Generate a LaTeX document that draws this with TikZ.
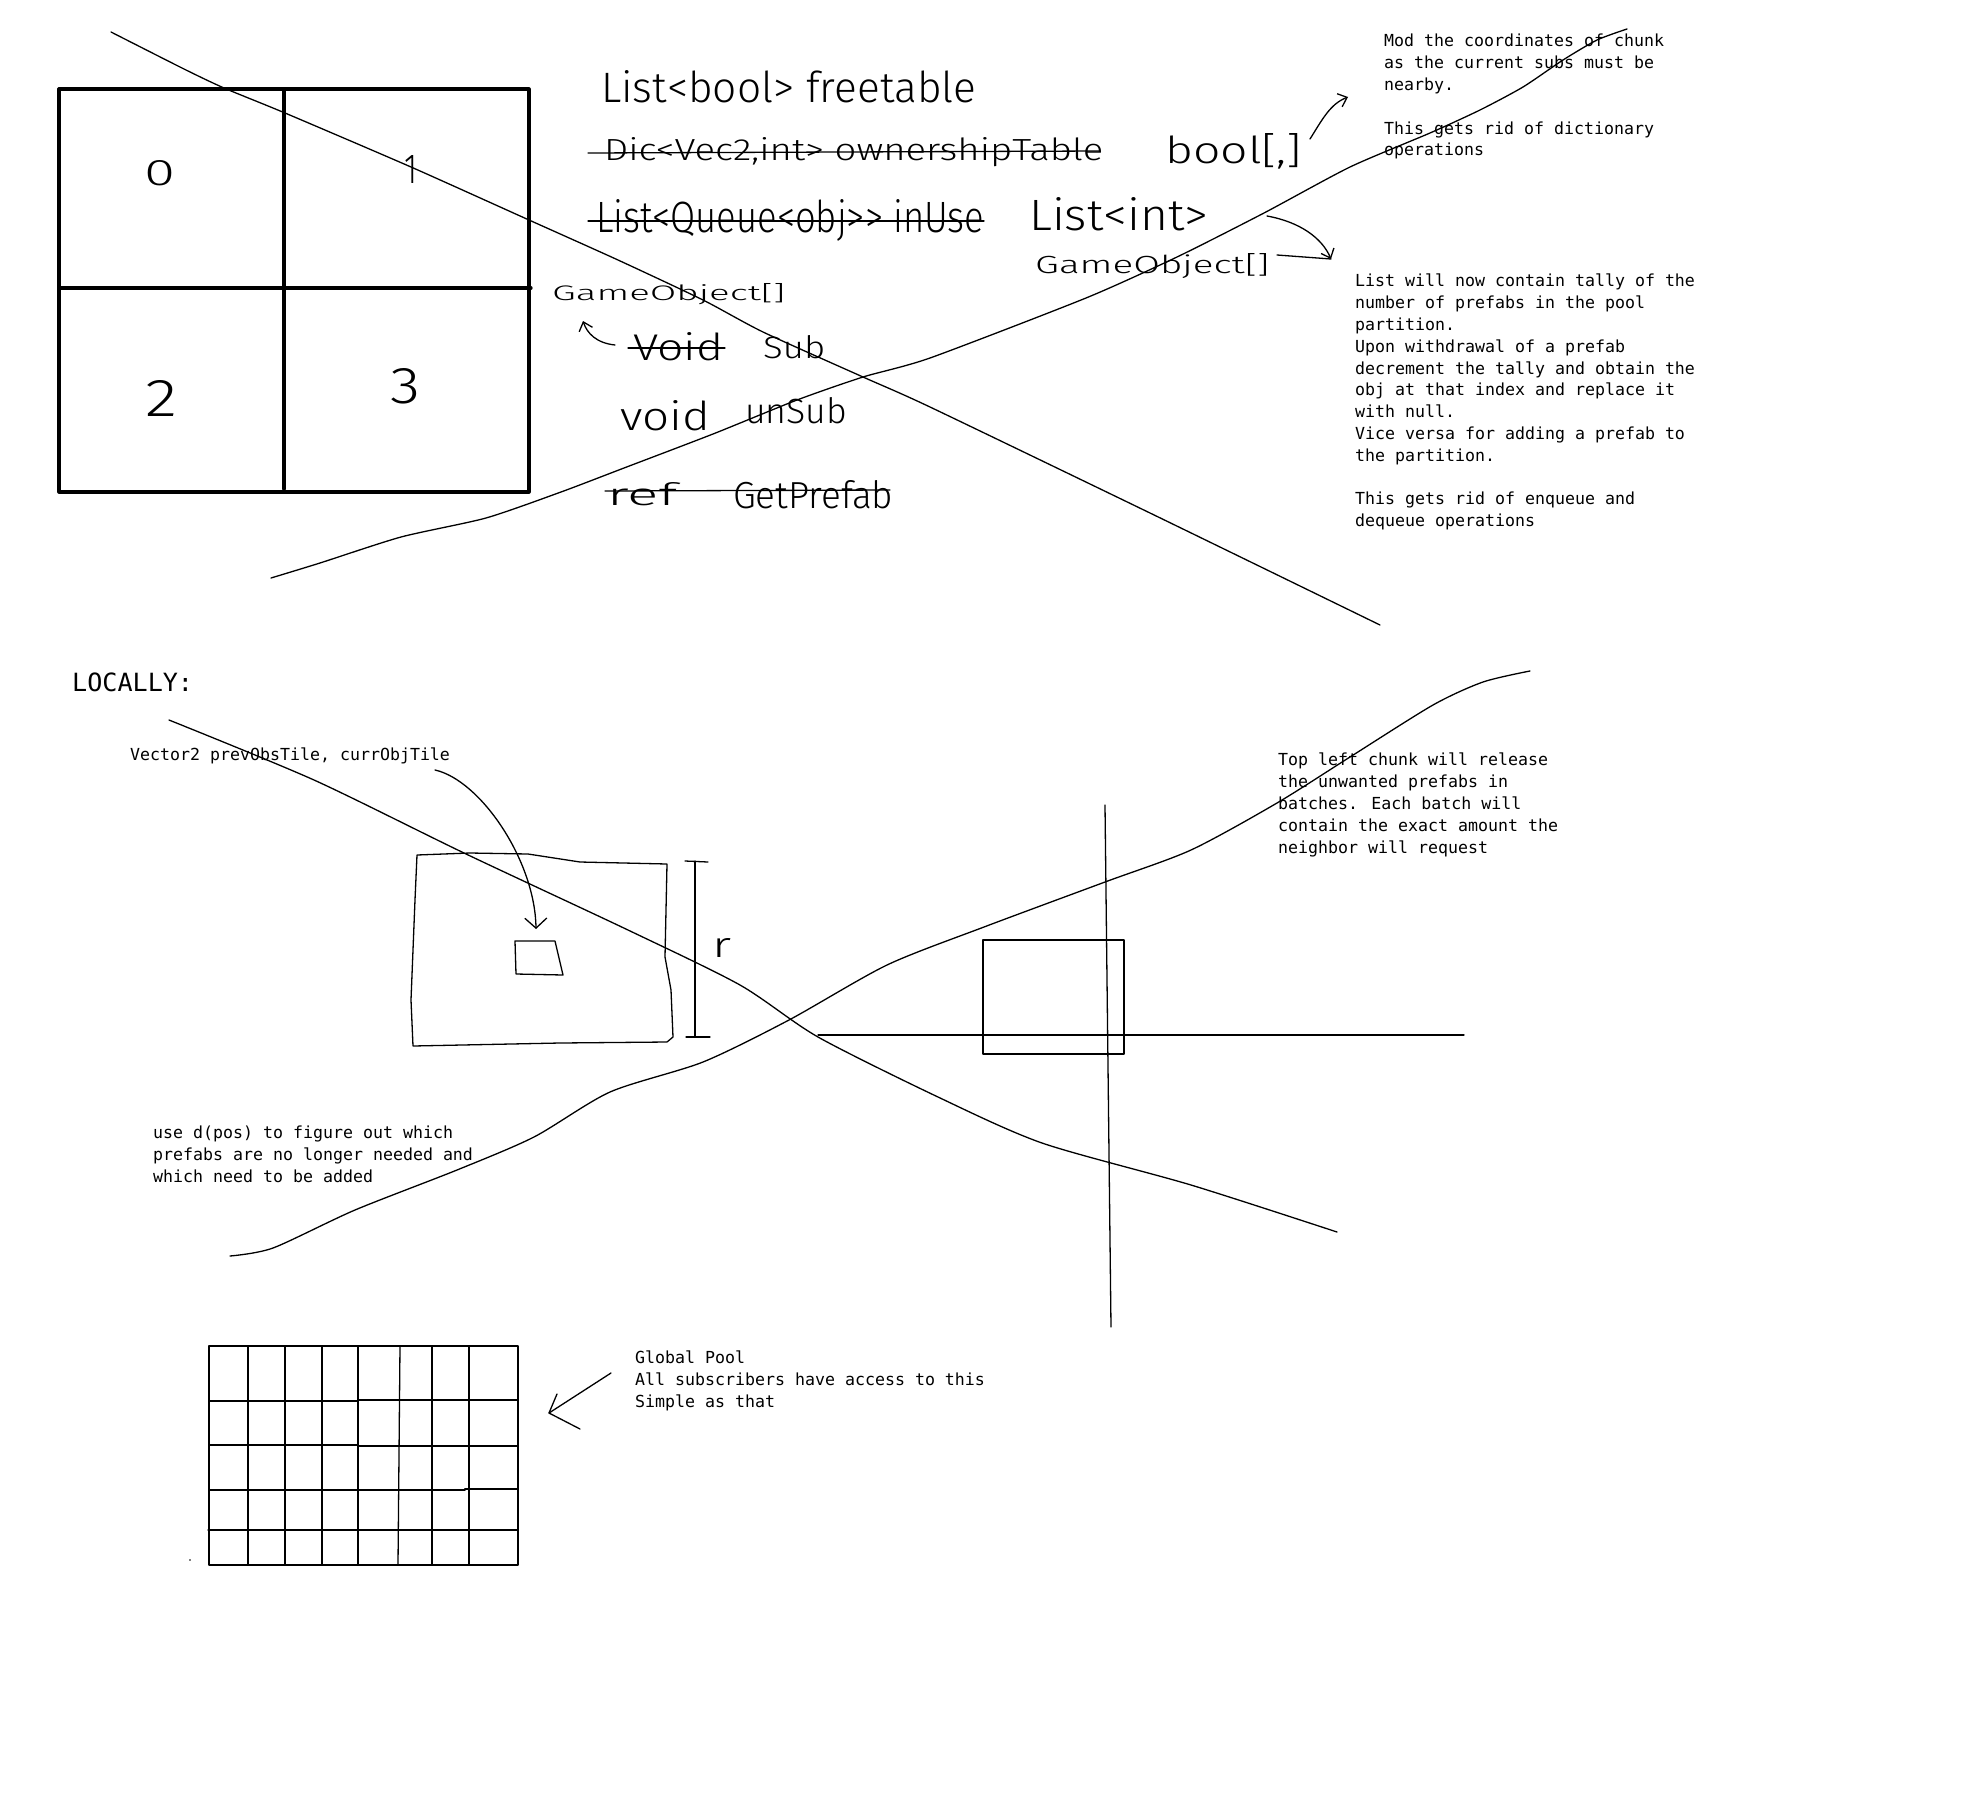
\documentclass[tikz,border=0pt]{standalone}
\usepackage{fontspec}
\usepackage{graphicx}
\usetikzlibrary{arrows.meta}
\newfontfamily\monof{DejaVu Sans Mono}
\newfontfamily\handf{Fira Sans Light}
\newcommand\hw[3]{\resizebox{#1pt}{#2pt}{\handf #3}}
\begin{document}
\begin{tikzpicture}[x=1pt,y=-1pt,line cap=round,line join=round,
  hand/.style={line width=1.3pt},
  boxline/.style={line width=3.2pt},
  ht/.style={inner sep=0pt,anchor=base west},
  mono/.style={inner sep=0pt,anchor=north west,align=left,font=\monof\fontsize{16.6}{21.8}\selectfont},
  tipbig/.style={-{Straight Barb[length=10pt,width=22pt]}},
  tipsmall/.style={-{Straight Barb[length=8pt,width=14pt]}}]
\fill[white] (0,0) rectangle (1971,1815);
\useasboundingbox (0,0) rectangle (1971,1815);

% ---------- top partition box ----------
\draw[boxline] (59,89) rectangle (529,492);
\draw[boxline] (284,89) -- (284,489);
\draw[boxline] (59,288) -- (531,288);
\node[ht] (n0) at (144,185) {\hw{31}{25}{0}};
\node[ht] (n1) at (404,183) {\hw{13}{28}{1}};
\node[ht] (n2) at (145,416) {\hw{32}{36}{2}};
\node[ht] (n3) at (390,403) {\hw{30}{35}{3}};

% ---------- handwritten notes ----------
\node[ht] (t1) at (601,102) {\hw{375}{32}{List<bool> freetable}};
\node[ht] (t2) at (604,160) {\hw{499}{23}{Dic<Vec2,int> ownershipTable}};
\draw[hand] (588,153) -- (1100,151);
\node[ht] (t3) at (1165,163) {\hw{137}{30}{bool[,]}};
\coordinate (a1) at (1348,97);
\draw[hand,tipsmall] (1310,139) .. controls (1322,120) and (1330,104) .. (a1);
\node[ht] (t4) at (596,232) {\hw{388}{33}{List<Queue<obj>> inUse}};
\draw[hand] (588,221) -- (984,221);
\node[ht] (t5) at (1029,230) {\hw{179}{33}{List<int>}};
\node[ht] (t6) at (1035,273) {\hw{234}{20}{GameObject[]}};
\coordinate (a2) at (1331,259);
\draw[hand,tipsmall] (1267,216) .. controls (1300,222) and (1322,238) .. (a2);
\draw[hand] (1277,255) -- (a2);
\node[ht] (t7) at (552,300) {\hw{233}{17}{GameObject[]}};
\coordinate (a3) at (583,321);
\draw[hand,tipsmall] (615,345) .. controls (596,343) and (587,333) .. (a3);
\node[ht] (t8) at (633,360) {\hw{90}{28}{Void}};
\draw[hand] (628,348) -- (725,348);
\node[ht] (t9) at (763,358) {\hw{62}{23}{Sub}};
\node[ht] (t10) at (620,430) {\hw{90}{30}{void}};
\node[ht] (t11) at (745,423) {\hw{102}{26}{unSub}};
\node[ht] (t12) at (607,505) {\hw{70}{23}{ref}};
\node[ht] (t13) at (733,508) {\hw{160}{28}{GetPrefab}};
\draw[hand] (605,491) -- (890,490);

% ---------- top cross ----------
\draw[hand] plot[smooth,tension=0.4] coordinates {(111,32) (184,69) (224,88) (285,113) (411,167) (529,220) (618,260) (703,300) (763,332) (863,377) (930,407) (1150,513) (1380,625)};
\draw[hand] plot[smooth,tension=0.4] coordinates {(271,578) (320,563) (401,537) (486,518) (561,492) (624,468) (713,434) (797,400) (863,377) (930,358) (1086,298) (1177,257) (1264,213) (1350,167) (1430,133) (1480,110) (1523,87) (1563,60) (1597,40) (1627,29)};

% ---------- typed notes (top) ----------
\node[mono] (m1) at (1384,34) {Mod the coordinates of chunk\\as the current subs must be\\nearby.\\[21.8pt]This gets rid of dictionary\\operations};
\node[mono] (m2) at (1355,274) {List will now contain tally of the\\number of prefabs in the pool\\partition.\\Upon withdrawal of a prefab\\decrement the tally and obtain the\\obj at that index and replace it\\with null.\\Vice versa for adding a prefab to\\the partition.\\[21.8pt]This gets rid of enqueue and\\dequeue operations};

% ---------- LOCALLY ----------
\node[ht,font=\monof\fontsize{25.1}{30}\selectfont] (loc) at (72,691) {LOCALLY:};
\node[mono] (vec) at (130,748) {Vector2 prevObsTile, currObjTile};

% chunk rectangle
\draw[hand] (417,855) -- (470,853) -- (528,854) -- (580,862) -- (667,864) -- (665,957) -- (671,990) -- (673,1037) -- (667,1042) -- (560,1043) -- (413,1046) -- (411,1000) -- (415,900) -- cycle;
% object tile
\draw[hand] (515,941) -- (555,941) -- (563,975) -- (516,974) -- cycle;
\coordinate (vs) at (435,770);
\coordinate (vt) at (536,929);
\draw[hand,tipbig] (vs) .. controls (480,780) and (535,860) .. (vt);
% radius bracket
\draw[hand] (695,861) -- (695,1037);
\draw[hand] (685,861) -- (708,862);
\draw[hand] (686,1037) -- (710,1037);
\node[ht] (rr) at (712,957) {\hw{19}{19}{r}};

% axes and neighbour chunk
\draw[hand] (818,1035) -- (1464,1035);
\draw[hand] (1105,805) -- (1111,1327);
\draw[hand] (983,940) rectangle (1124,1054);

% lower cross
\draw[hand] plot[smooth,tension=0.45] coordinates {(169,720) (314,780) (464,853) (628,930) (740,985) (818,1037) (938,1097) (1042,1143) (1191,1185) (1337,1232)};
\draw[hand] plot[smooth,tension=0.45] coordinates {(230,1256) (273,1248) (355,1210) (457,1170) (534,1137) (610,1092) (703,1062) (789,1020) (887,965) (984,927) (1105,882) (1191,850) (1277,803) (1350,757) (1433,705) (1483,682) (1530,671)};

\node[mono] (tl) at (1278,753) {Top left chunk will release\\the unwanted prefabs in\\batches. Each batch will\\contain the exact amount the\\neighbor will request};
\node[mono] (ud) at (153,1126) {use d(pos) to figure out which\\prefabs are no longer needed and\\which need to be added};

% ---------- global pool ----------
\draw[hand] (209,1346) rectangle (518,1565);
\foreach \cx in {248,285,322,358,432,469} \draw[hand] (\cx,1346) -- (\cx,1565);
\draw[hand] (400,1346) -- (398,1565);
\draw[hand] (209,1401) -- (358,1401) -- (358,1400) -- (518,1400);
\draw[hand] (209,1445) -- (358,1445) -- (358,1446) -- (518,1446);
\draw[hand] (209,1490) -- (465,1490) -- (465,1489) -- (518,1489);
\draw[hand] (208,1530) -- (518,1530);
\fill (190,1560) circle (0.8);
\coordinate (pa) at (611,1373);
\coordinate (pt) at (549,1413);
\draw[hand] (pa) -- (pt);
\draw[hand] (557,1394) -- (pt) -- (580,1429);
\node[mono] (gp) at (635,1351) {Global Pool\\All subscribers have access to this\\Simple as that};
\end{tikzpicture}
\end{document}
